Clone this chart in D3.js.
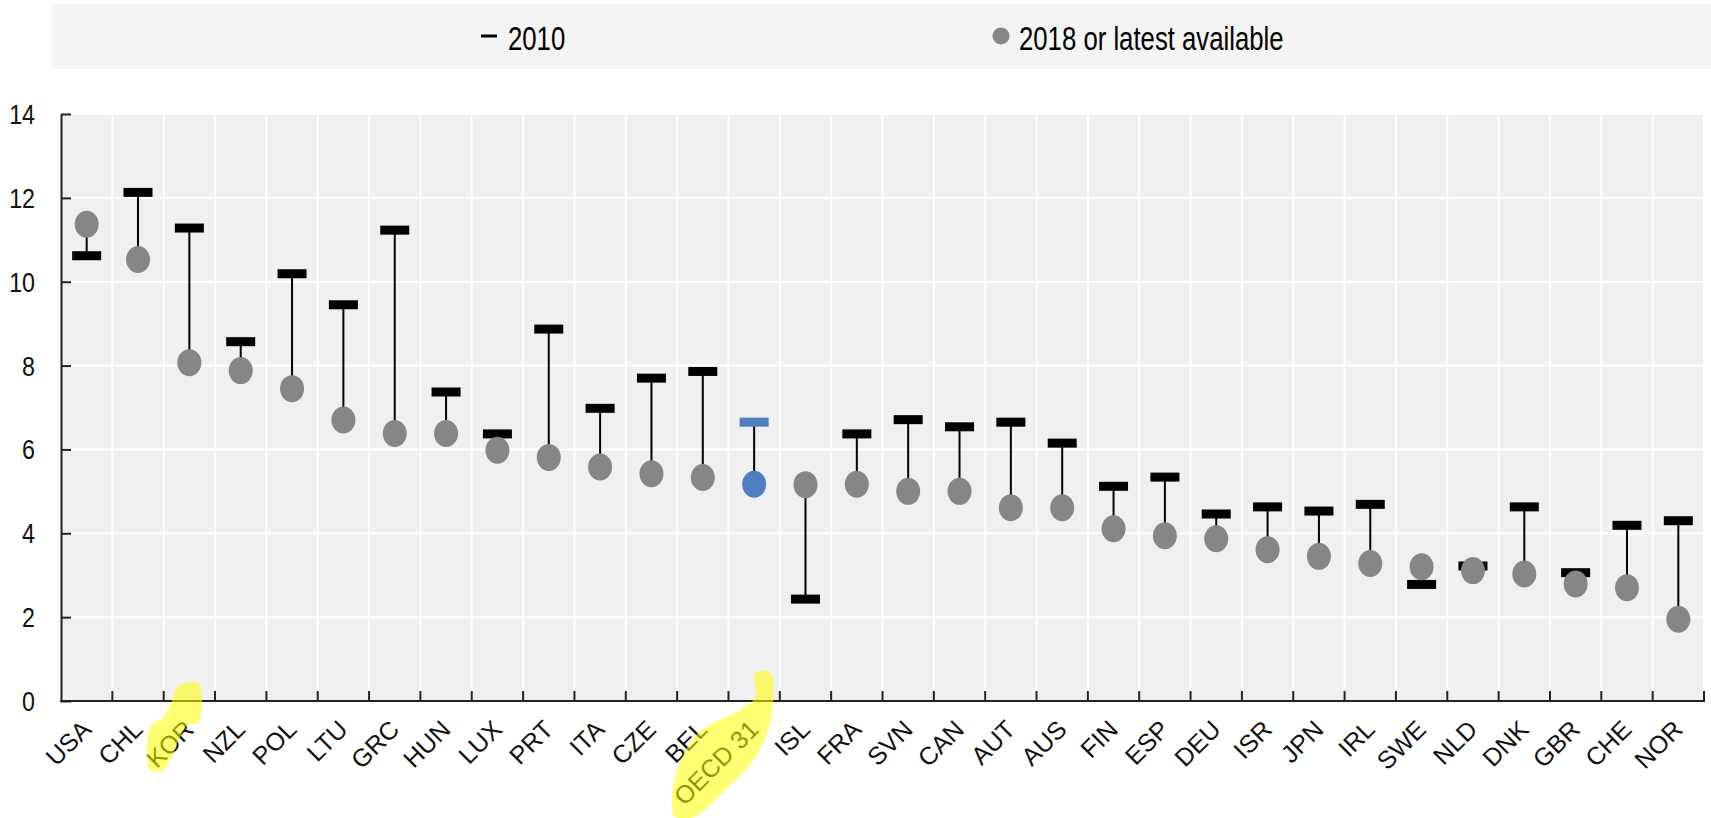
<!DOCTYPE html>
<html>
<head>
<meta charset="utf-8">
<script src="https://cdn.jsdelivr.net/npm/d3@7"></script>
<style>
  body { margin: 0; background: #ffffff; }
  #svg-container { width: 1711px; height: 818px; }
  text { font-family: "Liberation Sans", Arial, sans-serif; }
</style>
</head>
<body>
<div id="svg-container"></div>
<script>
// Dati
var countries = ["USA", "CHL", "KOR", "NZL", "POL", "LTU", "GRC", "HUN", "LUX", "PRT", "ITA", "CZE", "BEL", "OECD 31",
  "ISL", "FRA", "SVN", "CAN", "AUT", "AUS", "FIN", "ESP", "DEU", "ISR", "JPN", "IRL", "SWE", "NLD", "DNK", "GBR", "CHE", "NOR"];
var values2010 = [10.62, 12.13, 11.28, 8.57, 10.19, 9.45, 11.23, 7.37, 6.37, 8.87, 6.98, 7.70, 7.86, 6.65,
  2.43, 6.37, 6.71, 6.54, 6.65, 6.15, 5.12, 5.34, 4.46, 4.63, 4.53, 4.69, 2.78, 3.22, 4.63, 3.06, 4.19, 4.30];
var valuesLatest = [11.37, 10.53, 8.07, 7.88, 7.45, 6.70, 6.38, 6.38, 5.98, 5.81, 5.58, 5.42, 5.33, 5.17,
  5.16, 5.17, 5.00, 5.00, 4.61, 4.61, 4.11, 3.94, 3.87, 3.61, 3.45, 3.28, 3.20, 3.11, 3.03, 2.79, 2.70, 1.95];
var yTicks = [0, 2, 4, 6, 8, 10, 12, 14];
var legendLabels = ["2010", "2018 or latest available"];
var highlightCountry = "OECD 31";
var markedLabels = ["KOR", "OECD 31"];

window.addEventListener('DOMContentLoaded', function () {
  var width = 1711;
  var height = 818;

  var svg = d3.select("#svg-container")
    .append("svg")
    .attr("width", width)
    .attr("height", height);

  var rows = countries.map(function (c, i) {
    return { country: c, v2010: values2010[i], vLatest: valuesLatest[i] };
  });

  var x = d3.scaleBand().domain(countries).range([61, 1704]).padding(0);
  var y = d3.scaleLinear().domain([0, 14]).range([701, 114]);

  // Legenda
  svg.append("rect")
    .attr("x", 51).attr("y", 4)
    .attr("width", width - 51).attr("height", 65)
    .attr("fill", "#f4f4f4");

  svg.append("line")
    .attr("x1", 481).attr("x2", 497)
    .attr("y1", 36).attr("y2", 36)
    .attr("stroke", "#000").attr("stroke-width", 3);
  svg.append("text")
    .attr("transform", "translate(508,50) scale(0.78,1)")
    .attr("font-size", "33px")
    .attr("fill", "#000")
    .text(legendLabels[0]);

  svg.append("circle")
    .attr("cx", 1001).attr("cy", 36).attr("r", 8.5)
    .attr("fill", "#868686");
  svg.append("text")
    .attr("transform", "translate(1019,50) scale(0.78,1)")
    .attr("font-size", "33px")
    .attr("fill", "#000")
    .text(legendLabels[1]);

  // Sfondo dell'area del grafico
  svg.append("rect")
    .attr("x", x.range()[0]).attr("y", y(14))
    .attr("width", x.range()[1] - x.range()[0])
    .attr("height", y(0) - y(14))
    .attr("fill", "#f0f0f0");

  // Griglia orizzontale
  svg.selectAll(".hgrid")
    .data(yTicks)
    .enter()
    .append("line")
    .attr("class", "hgrid")
    .attr("x1", x.range()[0]).attr("x2", x.range()[1])
    .attr("y1", function (d) { return y(d); })
    .attr("y2", function (d) { return y(d); })
    .attr("stroke", "#ffffff").attr("stroke-width", 2);

  // Griglia verticale ai bordi delle categorie
  var edges = countries.map(function (c) { return x(c); }).concat([x.range()[1]]);
  svg.selectAll(".vgrid")
    .data(edges.slice(1))
    .enter()
    .append("line")
    .attr("class", "vgrid")
    .attr("x1", function (d) { return d; })
    .attr("x2", function (d) { return d; })
    .attr("y1", y(14)).attr("y2", y(0))
    .attr("stroke", "#ffffff").attr("stroke-width", 2);

  // Asse Y
  var yAxis = svg.append("g")
    .attr("transform", "translate(" + x.range()[0] + ",0)")
    .call(d3.axisLeft(y).tickValues(yTicks).tickSize(-10).tickSizeOuter(0));
  yAxis.select(".domain").attr("stroke", "#222").attr("stroke-width", 2);
  yAxis.selectAll(".tick line").attr("stroke", "#222").attr("stroke-width", 2);
  yAxis.selectAll(".tick text")
    .attr("x", null)
    .attr("dy", "0.34em")
    .attr("transform", "translate(-26,0) scale(0.83,1)")
    .attr("font-size", "28px")
    .attr("font-family", "Liberation Sans, Arial, sans-serif")
    .attr("fill", "#111");

  // Asse X
  svg.append("line")
    .attr("x1", x.range()[0] - 1).attr("x2", x.range()[1] + 1)
    .attr("y1", y(0)).attr("y2", y(0))
    .attr("stroke", "#222").attr("stroke-width", 2);
  svg.selectAll(".xtick")
    .data(edges.slice(1))
    .enter()
    .append("line")
    .attr("class", "xtick")
    .attr("x1", function (d) { return d; })
    .attr("x2", function (d) { return d; })
    .attr("y1", y(0)).attr("y2", y(0) - 10)
    .attr("stroke", "#222").attr("stroke-width", 2);

  svg.selectAll(".xlabel")
    .data(countries)
    .enter()
    .append("text")
    .attr("class", "xlabel")
    .attr("text-anchor", "end")
    .attr("font-size", "25px")
    .attr("fill", "#111")
    .attr("transform", function (d) {
      return "translate(" + (x(d) + x.bandwidth() / 2 + 6) + ",731) rotate(-45)";
    })
    .text(function (d) { return d; });

  // Linee tra 2010 e ultimo valore
  svg.selectAll(".whisker")
    .data(rows)
    .enter()
    .append("line")
    .attr("class", "whisker")
    .attr("x1", function (d) { return x(d.country) + x.bandwidth() / 2; })
    .attr("x2", function (d) { return x(d.country) + x.bandwidth() / 2; })
    .attr("y1", function (d) { return y(d.v2010); })
    .attr("y2", function (d) { return y(d.vLatest); })
    .attr("stroke", "#000").attr("stroke-width", 2);

  // Trattini 2010
  svg.selectAll(".cap")
    .data(rows)
    .enter()
    .append("rect")
    .attr("class", "cap")
    .attr("x", function (d) { return x(d.country) + x.bandwidth() / 2 - 14.5; })
    .attr("y", function (d) { return y(d.v2010) - 4.5; })
    .attr("width", 29).attr("height", 9)
    .attr("fill", function (d) { return d.country === highlightCountry ? "#4d80c0" : "#000"; });

  // Punti 2018
  svg.selectAll(".dot")
    .data(rows)
    .enter()
    .append("ellipse")
    .attr("class", "dot")
    .attr("cx", function (d) { return x(d.country) + x.bandwidth() / 2; })
    .attr("cy", function (d) { return y(d.vLatest); })
    .attr("rx", 12).attr("ry", 13.5)
    .attr("fill", function (d) { return d.country === highlightCountry ? "#4d80c0" : "#868686"; });

  // Evidenziatore giallo sulle etichette
  var marks = {
    "KOR": [[-12, 687], [9, 683], [9, 723], [-2, 725], [-26, 770], [-39, 770], [-39, 727], [-26, 717], [-17, 700]],
    "OECD 31": [[1, 673], [16, 673], [16, 723], [-1, 760], [-29, 790], [-60, 817], [-79, 817], [-79, 777], [-56, 733], [-14, 710], [1, 697]]
  };
  svg.selectAll(".marker")
    .data(markedLabels)
    .enter()
    .append("path")
    .attr("class", "marker")
    .attr("d", function (d) {
      var cx = x(d) + x.bandwidth() / 2;
      return d3.line().curve(d3.curveCatmullRomClosed)(marks[d].map(function (p) { return [cx + p[0], p[1]]; }));
    })
    .attr("fill", "#ffff00")
    .attr("opacity", 0.55);
});
</script>
</body>
</html>
